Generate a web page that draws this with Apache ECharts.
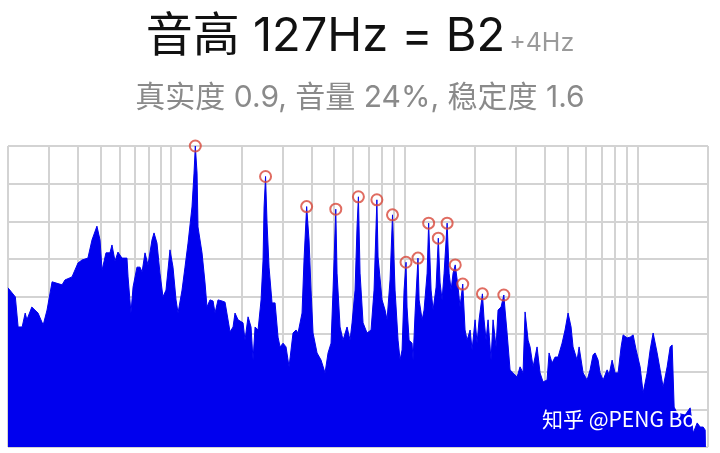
<!DOCTYPE html>
<html>
<head>
<meta charset="utf-8">
<script src="https://cdn.jsdelivr.net/npm/echarts@6/dist/echarts.min.js"></script>
<style>
html,body{margin:0;padding:0;background:#fff;}
#main{width:720px;height:453px;}
</style>
</head>
<body>
<div id="main"></div>
<script>
// Spectrum: frequency (Hz) and level (0..80 scale)
const freqs = [
  20, 21.5, 22.1, 23.0, 23.7, 24.1, 25.3, 26.9, 28.3, 29.4, 30.9, 34.1, 35.1, 37.6, 39.9, 41.5, 44.0, 45.8, 48.1, 49.6,
  50.6, 52.6, 54.7, 55.8, 57.5, 59.2, 61.6, 64.7, 65.4, 67.3, 68.7, 71.4, 73.6, 75.1, 77.3, 79.6, 82.8, 84.5, 87.0, 89.6,
  92.3, 95.1, 98.9, 101.9, 105.0, 107.1, 111.4, 114.7, 118.2, 122.9, 125.4, 127, 129.2, 130.4, 135.7, 139.8, 142.5, 146.8, 151.3, 154.3,
  158.9, 165.3, 170.3, 178.9, 184.3, 187.9, 193.6, 203.4, 207.4, 213.7, 220.1, 224.5, 229.0, 235.9, 243.0, 247.8, 250.3, 254, 257.8, 262.9,
  270.8, 279.0, 287.3, 293.1, 301.9, 310.9, 320.3, 333.1, 343.2, 350.0, 364.1, 371.3, 381, 390.1, 397.9, 405.8, 422.2, 439.2, 456.9, 470.6,
  484.8, 494.4, 508, 514.3, 529.8, 545.7, 567.7, 584.8, 596.4, 614.3, 626.5, 635, 645.4, 664.8, 691.5, 719.4, 741.0, 762, 770.9, 801.9,
  826.0, 842.5, 867.8, 889, 911.7, 939.1, 957.9, 977.0, 996.5, 1016, 1026, 1047, 1078, 1089, 1111, 1143, 1156, 1191, 1214, 1251,
  1270, 1301, 1327, 1367, 1397, 1422, 1450, 1479, 1524, 1554, 1585, 1616, 1651, 1698, 1731, 1778, 1819, 1856, 1912, 1950,
  2008, 2048, 2089, 2159, 2195, 2238, 2283, 2351, 2398, 2470, 2519, 2595, 2667, 2700, 2754, 2836, 2922, 3039, 3130, 3224,
  3289, 3388, 3455, 3559, 3630, 3702, 3813, 3928, 4086, 4168, 4293, 4422, 4555, 4738, 4880, 5027, 5178, 5281, 5495, 5605,
  5831, 6065, 6247, 6434, 6563, 6760, 6895, 7103, 7389, 7536, 7763, 7997, 8237, 8485, 8654, 9003, 9274, 9553, 9840, 10236,
  10544, 10969, 11299, 11639, 12107, 12471, 12846, 13363, 13765, 14041, 14321, 14752, 15964, 16772, 17277, 17974, 18514, 19071, 19452, 19500
];
const levels = [
  42.3, 39.9, 31.9, 31.9, 35.6, 33.8, 37.2, 35.6, 32.4, 36.4, 43.9, 43.1, 44.4, 45.2, 48.9, 49.7, 50.2, 55.0, 58.7, 55.0,
  47.0, 51.6, 51.6, 53.7, 49.4, 51.8, 50.2, 50.2, 45.2, 35.6, 42.5, 47.8, 47.8, 46.5, 51.6, 48.4, 55.0, 56.9, 54.2, 46.2,
  39.9, 41.7, 52.4, 47.8, 39.1, 35.6, 41.7, 47.8, 54.2, 63.8, 72.8, 80.0, 72.8, 58.5, 51.6, 43.6, 37.2, 39.1, 38.8, 35.6,
  39.1, 38.8, 38.5, 30.6, 31.9, 35.6, 33.8, 33.0, 28.4, 34.6, 31.9, 23.1, 31.9, 31.1, 39.1, 49.7, 63.8, 71.9, 59.5, 47.8,
  38.3, 38.3, 29.2, 26.6, 27.6, 26.6, 21.3, 30.3, 31.1, 30.3, 35.6, 49.7, 63.9, 55.0, 41.7, 30.3, 25.0, 23.1, 19.7, 25.0,
  27.6, 41.7, 63.2, 46.2, 31.9, 28.4, 31.9, 28.4, 33.0, 41.7, 58.5, 66.5, 46.2, 33.0, 30.3, 31.1, 41.7, 65.7, 50.5, 39.1,
  36.4, 33.8, 44.4, 61.7, 41.7, 28.4, 23.1, 25.8, 41.7, 49.1, 37.2, 28.4, 27.6, 23.1, 35.6, 50.2, 39.1, 33.8, 36.4, 46.2,
  59.5, 41.7, 36.4, 42.5, 55.5, 43.6, 39.1, 46.2, 59.5, 46.2, 41.7, 46.2, 48.4, 42.5, 37.2, 43.3, 31.1, 28.4, 31.1, 25.8,
  33.8, 27.6, 33.8, 40.7, 33.8, 28.4, 33.8, 23.1, 33.8, 26.6, 36.4, 37.2, 40.4, 36.4, 30.3, 20.5, 19.7, 18.6, 21.3, 19.7,
  35.9, 28.4, 26.6, 21.3, 23.9, 26.6, 19.7, 17.3, 17.8, 25.0, 22.3, 23.9, 23.9, 27.6, 31.1, 35.6, 31.9, 26.6, 23.1, 26.6,
  19.7, 17.8, 20.5, 24.5, 25.0, 23.1, 19.7, 17.8, 20.5, 19.2, 23.1, 19.7, 19.7, 26.6, 29.8, 29.0, 29.2, 29.8, 25.8, 21.3,
  14.4, 19.7, 25.8, 30.3, 25.0, 20.5, 15.9, 21.3, 26.6, 27.1, 10.6, 9.0, 8.5, 10.4, 3.7, 6.4, 5.3, 5.3, 4.5, 0
];
// Detected harmonic peaks
const peakFreqs = [127, 254, 381, 508, 635, 762, 889, 1016, 1143, 1270, 1397, 1524, 1651, 1778, 2159, 2667];
const peakLevels = [80.0, 71.9, 63.9, 63.2, 66.5, 65.7, 61.7, 49.1, 50.2, 59.5, 55.5, 59.5, 48.4, 43.3, 40.7, 40.4];
// Log-scale vertical grid lines (Hz)
const gridFreqs = [20, 30, 40, 50, 60, 70, 80, 90, 100, 200, 300, 400, 500, 600, 700, 800, 900, 1000,
  2000, 3000, 4000, 5000, 6000, 7000, 8000, 9000, 10000, 20000];

const titleMain = '音高 127Hz = B2';
const titleOffset = '+4Hz';
const subtitle = '真实度 0.9, 音量 24%, 稳定度 1.6';
const watermark = '知乎 @PENG Bo';

const chart = echarts.init(document.getElementById('main'), null, {renderer: 'canvas'});
const FONT = 'Inter, "Noto Sans CJK SC", sans-serif';
const spectrum = freqs.map((f, i) => [f, levels[i]]);
const peaks = peakFreqs.map((f, i) => [f, peakLevels[i]]);

chart.setOption({
  animation: false,
  backgroundColor: '#ffffff',
  title: [
    {
      text: '{a|' + titleMain + '}{b|' + titleOffset + '}',
      left: 'center', top: 8,
      textStyle: {
        rich: {
          a: {fontSize: 47, color: '#111111', fontFamily: FONT, fontWeight: 'normal'},
          b: {fontSize: 25, color: '#9a9a9a', fontFamily: FONT, fontWeight: 'normal', padding: [14, 0, 0, 4]}
        }
      }
    },
    {
      text: subtitle,
      left: 'center', top: 78,
      textStyle: {fontSize: 30, color: '#8a8a8a', fontFamily: FONT, fontWeight: 'normal'}
    }
  ],
  grid: {left: 8, right: 12, top: 146, bottom: 6, containLabel: false},
  xAxis: {
    type: 'log', logBase: 10, min: 20, max: 20000,
    axisLine: {show: false}, axisTick: {show: false}, axisLabel: {show: false},
    splitLine: {show: false}
  },
  yAxis: {
    type: 'value', min: 0, max: 80, interval: 10,
    axisLine: {show: false}, axisTick: {show: false}, axisLabel: {show: false},
    splitLine: {show: true, lineStyle: {color: '#d3d3d3', width: 2}}
  },
  series: [
    {
      type: 'line', data: [], z: 1, silent: true,
      markLine: {
        z: 1,
        symbol: 'none', silent: true, animation: false,
        label: {show: false},
        lineStyle: {color: '#d3d3d3', width: 2, type: 'solid'},
        emphasis: {disabled: true},
        data: gridFreqs.map(v => ({xAxis: v}))
      }
    },
    {
      type: 'line', data: spectrum, z: 2, showSymbol: false, symbol: 'none',
      lineStyle: {color: '#0000ee', width: 1},
      areaStyle: {color: '#0000ee', opacity: 1},
      silent: true
    },
    {
      type: 'scatter', data: peaks, z: 3, symbol: 'circle', symbolSize: 11,
      itemStyle: {color: 'rgba(255,255,255,0)', borderColor: '#d8473a', borderWidth: 2},
      silent: true
    }
  ],
  graphic: [
    {
      type: 'text', left: 542, top: 409, z: 10, silent: true,
      style: {text: watermark, fill: '#ffffff', font: '21px "Noto Sans CJK SC", sans-serif',
        shadowColor: 'rgba(0,0,0,0.25)', shadowBlur: 2}
    }
  ]
});
</script>
</body>
</html>
